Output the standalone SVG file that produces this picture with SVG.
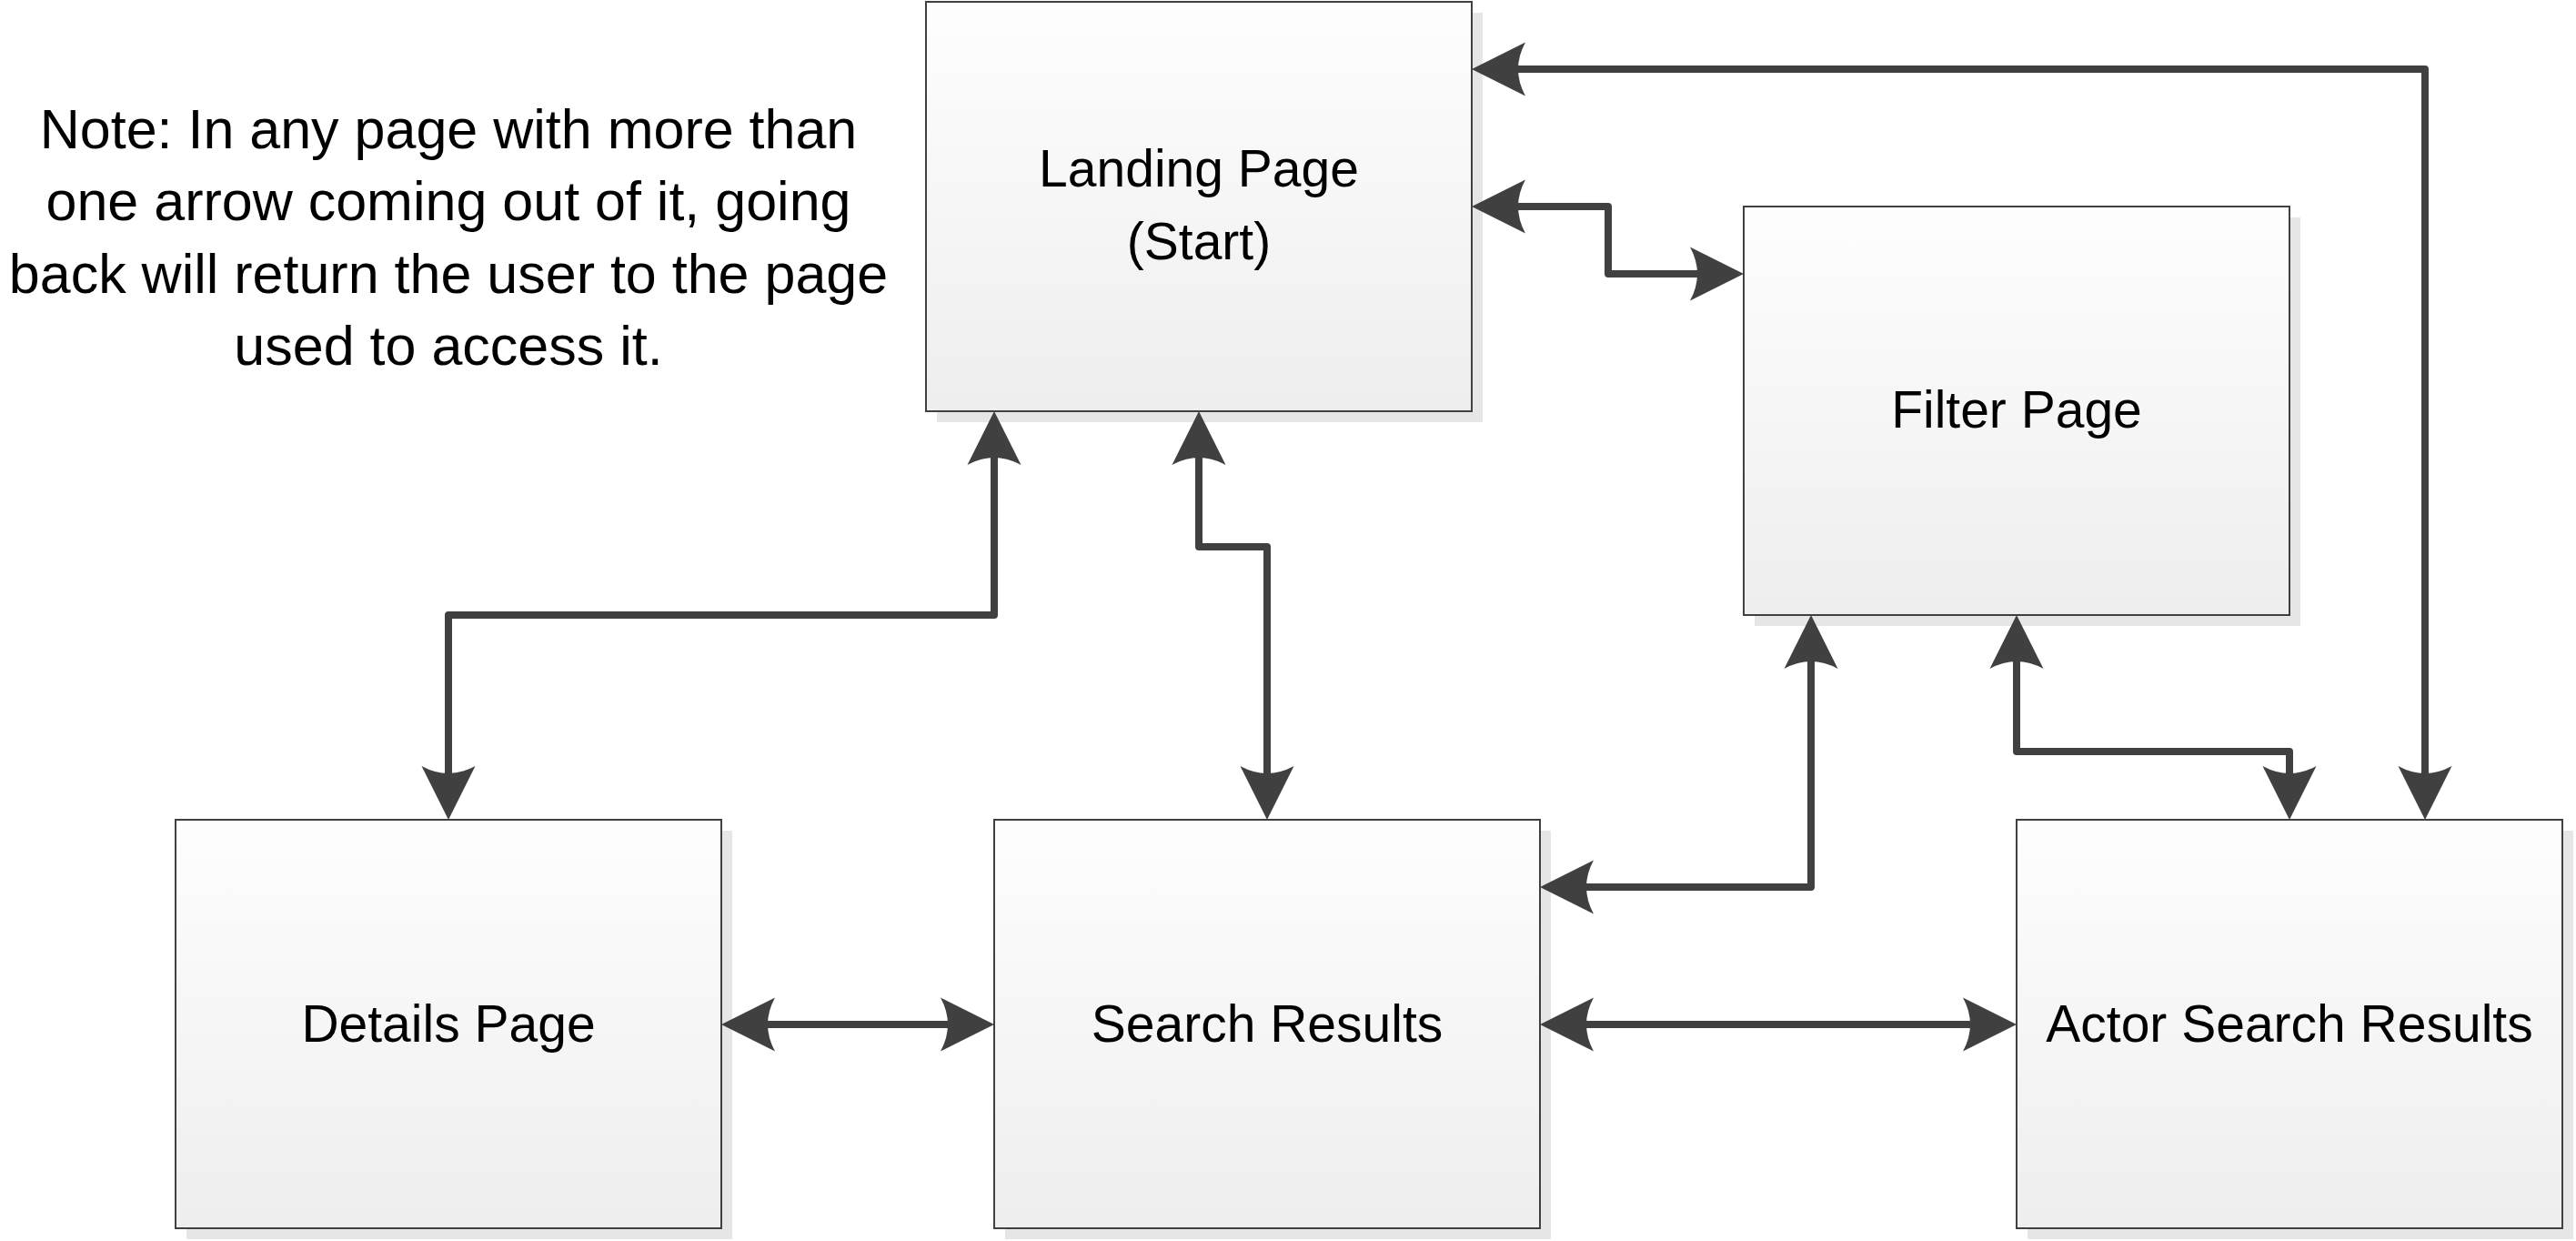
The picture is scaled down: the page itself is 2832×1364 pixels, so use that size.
<svg xmlns="http://www.w3.org/2000/svg" width="2832" height="1364" viewBox="0 0 2832 1364">
<defs>
<linearGradient id="boxfill" x1="0" y1="0" x2="0" y2="1">
<stop offset="0" stop-color="#fefefe"/>
<stop offset="1" stop-color="#eeeeee"/>
</linearGradient>
<marker id="ah" viewBox="-25 -31 70 62" refX="0" refY="0" markerWidth="70" markerHeight="62" markerUnits="userSpaceOnUse" orient="auto-start-reverse">
<path d="M40,0 L-19,-29.5 Q-3,0 -19,29.5 Z" fill="#404040"/>
</marker>
</defs>
<style>
.shadow{fill:#e6e6e6;}
.box{fill:url(#boxfill);stroke:#404040;stroke-width:2;}
.lbl{font-family:"Liberation Sans",Arial,sans-serif;font-size:57px;fill:#000;text-anchor:middle;}
.note{font-family:"Liberation Sans",Arial,sans-serif;font-size:61px;fill:#000;text-anchor:middle;}
.conn{fill:none;stroke:#404040;stroke-width:8;stroke-linejoin:round;marker-start:url(#ah);marker-end:url(#ah);}
</style>
<rect width="2832" height="1364" fill="#ffffff"/>

<g id="note">
<text class="note" x="493" y="163">Note: In any page with more than</text>
<text class="note" x="493" y="242">one arrow coming out of it, going</text>
<text class="note" x="493" y="322">back will return the user to the page</text>
<text class="note" x="493" y="401">used to access it.</text>
</g>

<g id="landing">
<rect class="shadow" x="1030" y="14" width="600" height="450"/>
<rect class="box" x="1018" y="2" width="600" height="450"/>
<text class="lbl" x="1318" y="205">Landing Page</text>
<text class="lbl" x="1318" y="285">(Start)</text>
</g>

<g id="filter">
<rect class="shadow" x="1929" y="239" width="600" height="449"/>
<rect class="box" x="1917" y="227" width="600" height="449"/>
<text class="lbl" x="2217" y="470">Filter Page</text>
</g>

<g id="details">
<rect class="shadow" x="205" y="913" width="600" height="449"/>
<rect class="box" x="193" y="901" width="600" height="449"/>
<text class="lbl" x="493" y="1145">Details Page</text>
</g>

<g id="search">
<rect class="shadow" x="1105" y="913" width="600" height="449"/>
<rect class="box" x="1093" y="901" width="600" height="449"/>
<text class="lbl" x="1393" y="1145">Search Results</text>
</g>

<g id="actor">
<rect class="shadow" x="2229" y="913" width="600" height="449"/>
<rect class="box" x="2217" y="901" width="600" height="449"/>
<text class="lbl" x="2517" y="1145">Actor Search Results</text>
</g>

<g id="connectors">
<path class="conn" d="M1658,76 H2666 V861"/>
<path class="conn" d="M1658,227 H1768 V301 H1877"/>
<path class="conn" d="M1093,492 V676 H493 V861"/>
<path class="conn" d="M1318,492 V601 H1393 V861"/>
<path class="conn" d="M833,1126 H1053"/>
<path class="conn" d="M1733,1126 H2177"/>
<path class="conn" d="M1733,975 H1991 V716"/>
<path class="conn" d="M2217,716 V826 H2517 V861"/>
</g>
</svg>
